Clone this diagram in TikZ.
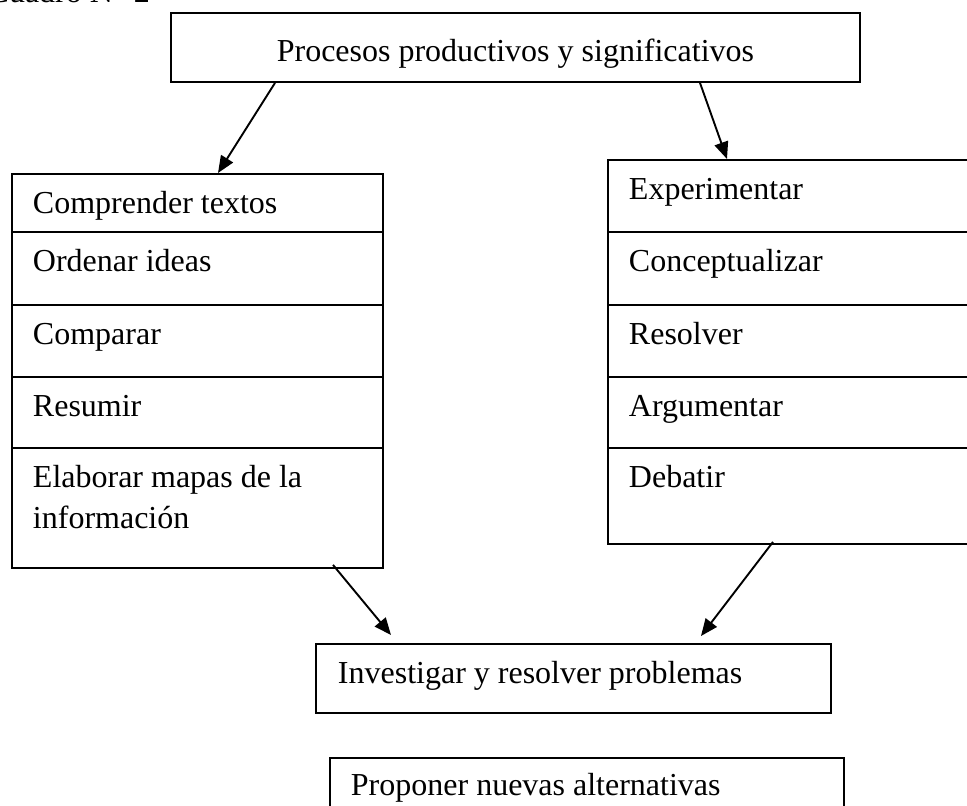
\documentclass[tikz,border=0pt]{standalone}
\usepackage{fontspec}
\setmainfont{Liberation Serif}
\usetikzlibrary{arrows.meta,calc}
\begin{document}
\begin{tikzpicture}[x=1pt,y=-1pt,
  txt/.style={font=\fontsize{32}{41}\selectfont},
  box/.style={txt,draw,line width=1.9pt,anchor=north west,inner ysep=0pt},
  cell/.style={box,inner xsep=21pt,align=flush left,text height=40pt},
  lcell/.style={cell,text width=329pt},
  rcell/.style={cell,text width=358pt},
  arr/.style={line width=1.9pt,-{Triangle[length=17pt,width=14pt]}}]
\useasboundingbox (0,0) rectangle (967,806);
\clip (0,0) rectangle (967,806);
% caption (cut at the top of the page)
\node[txt,anchor=base east,inner sep=0pt] (cap) at (150,2) {Cuadro N° 2};
% top box
\node[box,inner xsep=0pt,minimum width=689pt,
  text height=49pt,text depth=20pt,align=center] (top) at (170,12)
  {Procesos productivos y significativos};
% left column
\node[lcell,text depth=18pt] (l1) at (11,173) {Comprender textos};
\node[lcell,text depth=33pt] (l2) at (11,231) {Ordenar ideas};
\node[lcell,text depth=32pt] (l3) at (11,304) {Comparar};
\node[lcell,text depth=31pt] (l4) at (11,376) {Resumir};
\node[lcell,text depth=80pt] (l5) at (11,447) {Elaborar mapas de la\\información};
% right column
\node[rcell,text depth=32pt] (r1) at (607,159) {Experimentar};
\node[rcell,text depth=33pt] (r2) at (607,231) {Conceptualizar};
\node[rcell,text depth=32pt] (r3) at (607,304) {Resolver};
\node[rcell,text depth=31pt] (r4) at (607,376) {Argumentar};
\node[rcell,text depth=56pt] (r5) at (607,447) {Debatir};
% bottom boxes
\node[box,inner xsep=22pt,text width=471pt,text height=40pt,text depth=29pt,align=flush left]
  (inv) at (315,643) {Investigar y resolver problemas};
\node[box,inner xsep=21pt,text width=472pt,text height=38pt,text depth=32pt,align=flush left]
  (prop) at (329,757) {Proponer nuevas alternativas};
% connectors
\draw[arr] ($(top.south west)+(105,0)$) -- ($(l1.north west)+(207,0)$);
\draw[arr] ($(top.south west)+(530,0)$) -- ($(r1.north west)+(120,0)$);
\draw[arr] ($(l5.south west)+(322,-4)$) -- ($(inv.north west)+(76,-8)$);
\draw[arr] ($(r5.south west)+(166,-3)$) -- ($(inv.north west)+(386,-7)$);
\end{tikzpicture}
\end{document}
